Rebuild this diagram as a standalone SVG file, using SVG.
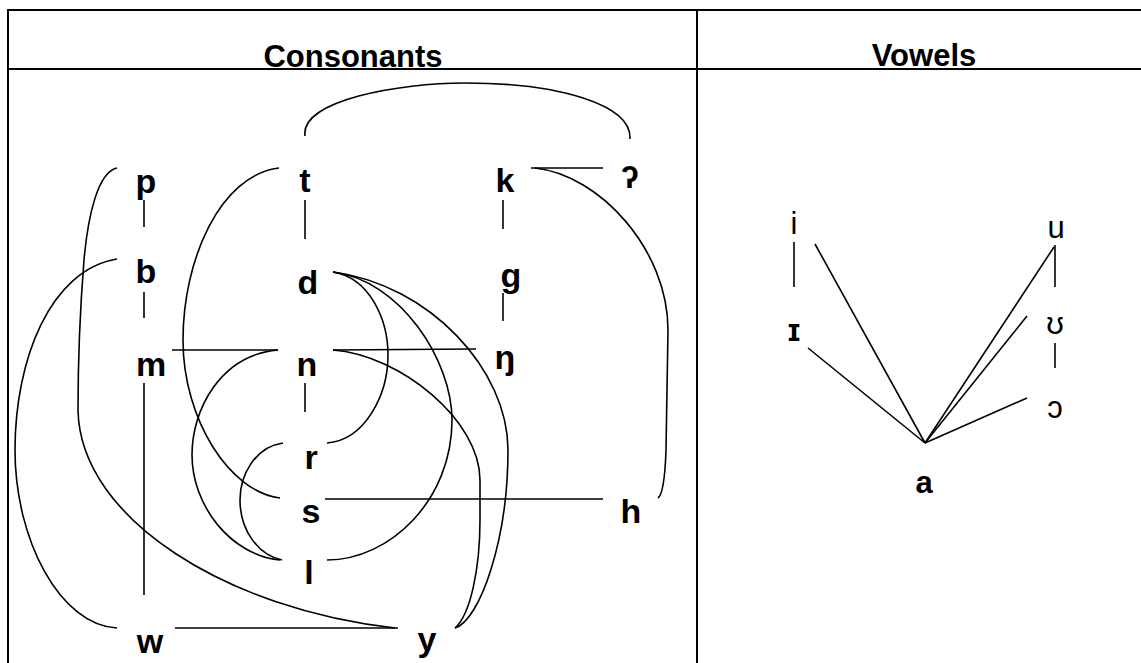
<svg xmlns="http://www.w3.org/2000/svg" width="1141" height="663" viewBox="0 0 1141 663">
<style>
.frame{stroke:#000;stroke-width:2;fill:none}
.c{stroke:#000;stroke-width:1.6;fill:none}
.h{font-family:"Liberation Sans",Arial,sans-serif;font-weight:bold;font-size:31px;text-anchor:middle;fill:#000}
.cb{font-family:"Liberation Sans","DejaVu Sans",sans-serif;font-weight:bold;font-size:34px;text-anchor:middle;fill:#000}
.vr{font-family:"Liberation Sans","DejaVu Sans",sans-serif;font-size:31px;text-anchor:middle;fill:#000}
.vb{font-family:"Liberation Sans","DejaVu Sans",sans-serif;font-weight:bold;font-size:31px;text-anchor:middle;fill:#000}
</style>
<rect width="1141" height="663" fill="#fff"/>
<g id="table">
<line class="frame" x1="8" y1="10" x2="1141" y2="10"/>
<line class="frame" x1="8" y1="69" x2="1141" y2="69"/>
<line class="frame" x1="8" y1="9" x2="8" y2="663"/>
<line class="frame" x1="697" y1="10" x2="697" y2="663"/>
<text class="h" x="353" y="67">Consonants</text>
<text class="h" x="924" y="66">Vowels</text>
</g>
<g id="connectors">
<path class="c" d="M305,136 C300,100 400,83 465,83 C560,83 632,105 630,139"/>
<line class="c" x1="144" y1="200" x2="144" y2="227"/>
<line class="c" x1="144" y1="292" x2="144" y2="318"/>
<line class="c" x1="144" y1="383" x2="144" y2="595"/>
<line class="c" x1="305" y1="200" x2="305" y2="239"/>
<line class="c" x1="305" y1="383" x2="305" y2="412"/>
<line class="c" x1="503" y1="200" x2="503" y2="229"/>
<line class="c" x1="503" y1="293" x2="503" y2="321"/>
<line class="c" x1="531" y1="168" x2="603" y2="168"/>
<line class="c" x1="172" y1="350" x2="278" y2="350"/>
<line class="c" x1="333" y1="350" x2="476" y2="349"/>
<line class="c" x1="325" y1="499" x2="603" y2="499"/>
<line class="c" x1="175" y1="628" x2="398" y2="628"/>
<path class="c" d="M117,168 C98,172 88,215 84,260 C80,310 78,370 78,410 C80,520 230,610 395,628"/>
<path class="c" d="M117,259 C50,270 15,360 15,450 C15,540 60,625 117,628"/>
<path class="c" d="M279,168 C220,175 183,260 183,340 C183,420 230,492 280,498"/>
<path class="c" d="M278,350 C220,355 192,410 192,455 C192,505 230,555 280,560"/>
<path class="c" d="M283,443 C255,447 240,475 240,500 C240,530 258,555 282,560"/>
<path class="c" d="M333,272 C370,278 388,320 388,355 C388,395 365,440 327,443"/>
<path class="c" d="M333,272 C400,280 452,360 452,420 C452,500 390,560 327,560"/>
<path class="c" d="M333,272 C430,285 508,370 508,450 C508,540 480,620 455,628"/>
<path class="c" d="M333,350 C400,355 480,420 480,480 L480,520 C480,570 470,615 455,628"/>
<path class="c" d="M535,168 C600,175 668,250 668,330 L666,450 C665,480 662,495 658,498"/>
<line class="c" x1="794" y1="242" x2="794" y2="287"/>
<line class="c" x1="1055" y1="245" x2="1055" y2="287"/>
<line class="c" x1="1055" y1="343" x2="1055" y2="368"/>
<line class="c" x1="815" y1="244" x2="925" y2="443"/>
<line class="c" x1="808" y1="348" x2="925" y2="443"/>
<line class="c" x1="1054" y1="247" x2="925" y2="443"/>
<line class="c" x1="1027" y1="316" x2="925" y2="443"/>
<line class="c" x1="1027" y1="398" x2="925" y2="443"/>
</g>
<g id="node-p"><text class="cb" x="146" y="193">p</text></g>
<g id="node-t"><text class="cb" x="305" y="192">t</text></g>
<g id="node-k"><text class="cb" x="505" y="192">k</text></g>
<g id="node-glottal"><text class="cb" x="630" y="188" style="font-size:32px">ʔ</text></g>
<g id="node-b"><text class="cb" x="146" y="283">b</text></g>
<g id="node-d"><text class="cb" x="308" y="294">d</text></g>
<g id="node-g"><text class="cb" x="511" y="287">g</text></g>
<g id="node-m"><text class="cb" x="151" y="376">m</text></g>
<g id="node-n"><text class="cb" x="307" y="376">n</text></g>
<g id="node-ng"><text class="cb" x="505" y="369">ŋ</text></g>
<g id="node-r"><text class="cb" x="311" y="469">r</text></g>
<g id="node-s"><text class="cb" x="311" y="523">s</text></g>
<g id="node-l"><text class="cb" x="309" y="584">l</text></g>
<g id="node-h"><text class="cb" x="631" y="523">h</text></g>
<g id="node-w"><text class="cb" x="150" y="653">w</text></g>
<g id="node-y"><text class="cb" x="427" y="651">y</text></g>
<g id="node-i"><text class="vr" x="794" y="234">i</text></g>
<g id="node-u"><text class="vr" x="1056" y="238">u</text></g>
<g id="node-ih"><text class="vr" x="794" y="341" style="font-weight:bold">ɪ</text></g>
<g id="node-uh"><text class="vr" x="1055" y="334">ʊ</text></g>
<g id="node-oh"><text class="vr" x="1055" y="418">ɔ</text></g>
<g id="node-a"><text class="vb" x="924" y="493">a</text></g>
</svg>
